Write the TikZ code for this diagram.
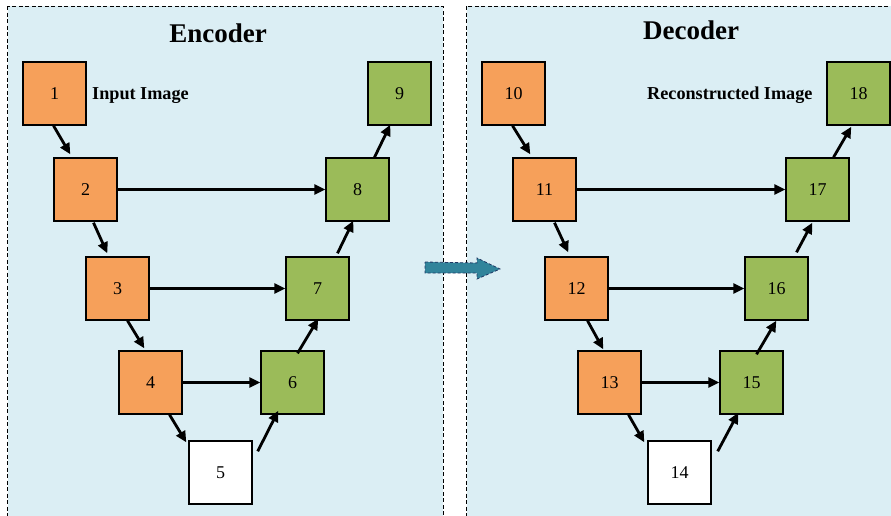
\documentclass[tikz,border=0pt]{standalone}
\usepackage{fontspec}
\setmainfont{Liberation Serif}
\usetikzlibrary{calc,arrows.meta}
\definecolor{panelbg}{RGB}{219,238,244}
\definecolor{boxorange}{RGB}{246,160,90}
\definecolor{boxgreen}{RGB}{155,187,89}
\definecolor{arrowteal}{RGB}{49,132,155}
\definecolor{arrowedge}{RGB}{31,56,100}
\tikzset{
  panel/.style={draw=black, dash pattern=on 4pt off 2.5pt, line width=0.9pt, fill=panelbg},
  sq/.style={draw=black, line width=1.4pt, minimum width=63pt, minimum height=63pt, inner sep=0pt, font=\fontsize{18}{20}\selectfont},
  enc/.style={sq, fill=boxorange},
  dec/.style={sq, fill=boxgreen},
  mid/.style={sq, fill=white},
  conn/.style={line width=2.8pt, -{Triangle[length=11pt,width=10pt]}},
  title/.style={font=\fontsize{27}{30}\selectfont\bfseries, inner sep=0pt, anchor=base},
  lbl/.style={font=\fontsize{18.2}{20}\selectfont\bfseries, inner sep=0pt, anchor=base west}
}
\begin{document}
\begin{tikzpicture}[x=1pt,y=-1pt]
\useasboundingbox (0,0) rectangle (891,515);
\begin{scope}
\clip (0,0) rectangle (891,515);
\draw[panel] (7.5,6) rectangle (443,540);
\draw[panel] (466.5,6) rectangle (920,540);
\end{scope}
% titles
\node[title] (tenc) at (218,42) {Encoder};
\node[title] (tdec) at (691,39) {Decoder};
\node[lbl] (lin) at (92,99.5) {Input Image};
\node[lbl] (lout) at (647,99) {Reconstructed Image};
% encoder boxes
\node[enc] (n1) at (54.5,93.5) {1};
\node[enc] (n2) at (85.5,189.5) {2};
\node[enc] (n3) at (117.5,288.5) {3};
\node[enc] (n4) at (150.5,382.5) {4};
\node[mid] (n5) at (220.5,472.5) {5};
\node[dec] (n6) at (292.5,382.5) {6};
\node[dec] (n7) at (317.5,288.5) {7};
\node[dec] (n8) at (357.5,189.5) {8};
\node[dec] (n9) at (399.5,93.5) {9};
% decoder boxes
\node[enc] (n10) at (513.5,93.5) {10};
\node[enc] (n11) at (544.5,189.5) {11};
\node[enc] (n12) at (576.5,288.5) {12};
\node[enc] (n13) at (609.5,382.5) {13};
\node[mid] (n14) at (679.5,472.5) {14};
\node[dec] (n15) at (751.5,382.5) {15};
\node[dec] (n16) at (776.5,288.5) {16};
\node[dec] (n17) at (817.5,189.5) {17};
\node[dec] (n18) at (858.5,93.5) {18};
% encoder arrows
\draw[conn] ($(n1.south)+(-1,0)$) -- ($(n2.north west)+(17,-3)$);
\draw[conn] ($(n2.south)+(8,1)$) -- ($(n3.north west)+(22,-3)$);
\draw[conn] ($(n3.south)+(10,0)$) -- ($(n4.north west)+(26,-2)$);
\draw[conn] ($(n4.south)+(19,0)$) -- ($(n5.north west)+(-2,2)$);
\draw[conn] ($(n5.north east)+(5,11)$) -- ($(n6.south west)+(18,-4)$);
\draw[conn] ($(n6.north)+(5,3)$) -- ($(n7.south west)+(33,-2)$);
\draw[conn] ($(n7.north)+(20,-3)$) -- ($(n8.south west)+(28,-1)$);
\draw[conn] ($(n8.north)+(17,0)$) -- ($(n9.south west)+(23,-1)$);
\draw[conn] (n2.east) -- (n8.west);
\draw[conn] (n3.east) -- (n7.west);
\draw[conn] (n4.east) -- (n6.west);
% decoder arrows
\draw[conn] ($(n10.south)+(-1,0)$) -- ($(n11.north west)+(18,-3)$);
\draw[conn] ($(n11.south)+(10,1)$) -- ($(n12.north west)+(24,-4)$);
\draw[conn] ($(n12.south)+(11,0)$) -- ($(n13.north west)+(26,-1)$);
\draw[conn] ($(n13.south)+(19,0)$) -- ($(n14.north west)+(-3,2)$);
\draw[conn] ($(n14.north east)+(6,11)$) -- ($(n15.south west)+(19,-2)$);
\draw[conn] ($(n15.north)+(5,4)$) -- ($(n16.south west)+(32,0)$);
\draw[conn] ($(n16.north)+(20,-4)$) -- ($(n17.south west)+(27,1)$);
\draw[conn] ($(n17.north)+(16,0)$) -- ($(n18.south west)+(25,1)$);
\draw[conn] (n11.east) -- (n17.west);
\draw[conn] (n12.east) -- (n16.west);
\draw[conn] (n13.east) -- (n15.west);
% middle block arrow
\draw[draw=arrowedge, dash pattern=on 3pt off 2pt, line width=0.8pt, fill=arrowteal]
  (425,262) -- (477,263) -- (477,258) -- (500,269) -- (477,279) -- (477,273) -- (425,273) -- cycle;
\end{tikzpicture}
\end{document}
